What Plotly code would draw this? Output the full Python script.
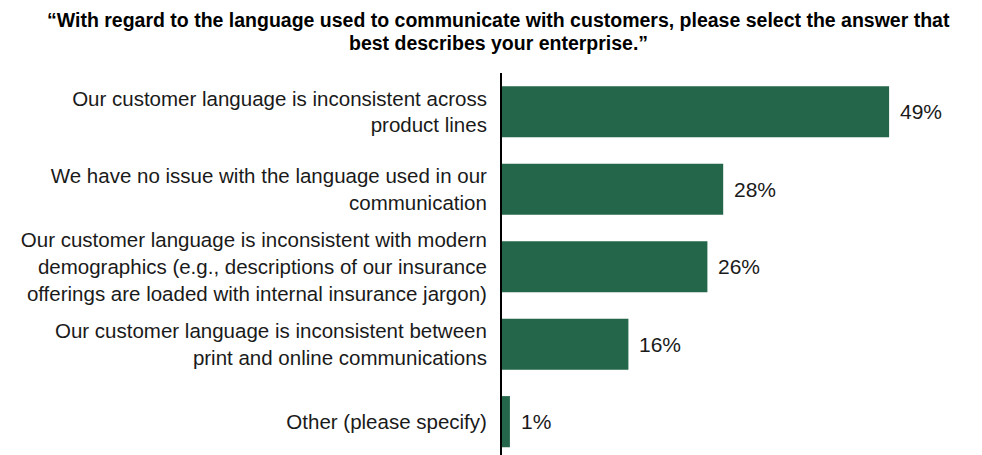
import plotly.graph_objects as go

categories = [
    "Our customer language is inconsistent across<br>product lines",
    "We have no issue with the language used in our<br>communication",
    "Our customer language is inconsistent with modern<br>demographics (e.g., descriptions of our insurance<br>offerings are loaded with internal insurance jargon)",
    "Our customer language is inconsistent between<br>print and online communications",
    "Other (please specify)",
]
values = [49, 28, 26, 16, 1]
labels = [f"{v}%" for v in values]

title_lines = [
    "“With regard to the language used to communicate with customers, please select the answer that",
    "best describes your enterprise.”",
]

FONT = "Liberation Sans, Arial"
W, H = 974, 447
L, R, T, B = 494, 6, 65, 0

fig = go.Figure(go.Bar(
    y=categories, x=values, orientation="h",
    marker=dict(color="#23664A", line=dict(width=0)),
    width=0.66,
    cliponaxis=False,
))

for v, lab, cat in zip(values, labels, categories):
    fig.add_annotation(
        x=v, y=cat, text=lab, xref="x", yref="y",
        xanchor="left", yanchor="middle", xshift=9,
        showarrow=False,
        font=dict(family=FONT, size=21, color="#1a1a1a"),
    )

fig.update_layout(
    width=W, height=H,
    margin=dict(l=L, r=R, t=T, b=B, autoexpand=False),
    paper_bgcolor="white", plot_bgcolor="white",
    showlegend=False,
    font=dict(family=FONT, size=20, color="#1a1a1a"),
    xaxis=dict(range=[0, 60], showgrid=False, zeroline=False, showticklabels=False,
               showline=False, automargin=False),
    yaxis=dict(range=[4.43, -0.5], showgrid=False, zeroline=False, automargin=False,
               showline=True, linecolor="black", linewidth=2,
               ticks="", ticklabelstandoff=9,
               tickfont=dict(family=FONT, size=20.5, color="#1a1a1a")),
)
plot_w = W - L - R
plot_h = H - T - B
for line, ypx in zip(title_lines, [11.5, 34.5]):
    fig.add_annotation(
        text=f"<b>{line}</b>", xref="paper", yref="paper",
        x=(490 - L) / plot_w, xanchor="center",
        y=1 + (T - ypx) / plot_h, yanchor="middle",
        showarrow=False,
        font=dict(family=FONT, size=19.5, color="black"),
    )

fig.write_html("out.html")
